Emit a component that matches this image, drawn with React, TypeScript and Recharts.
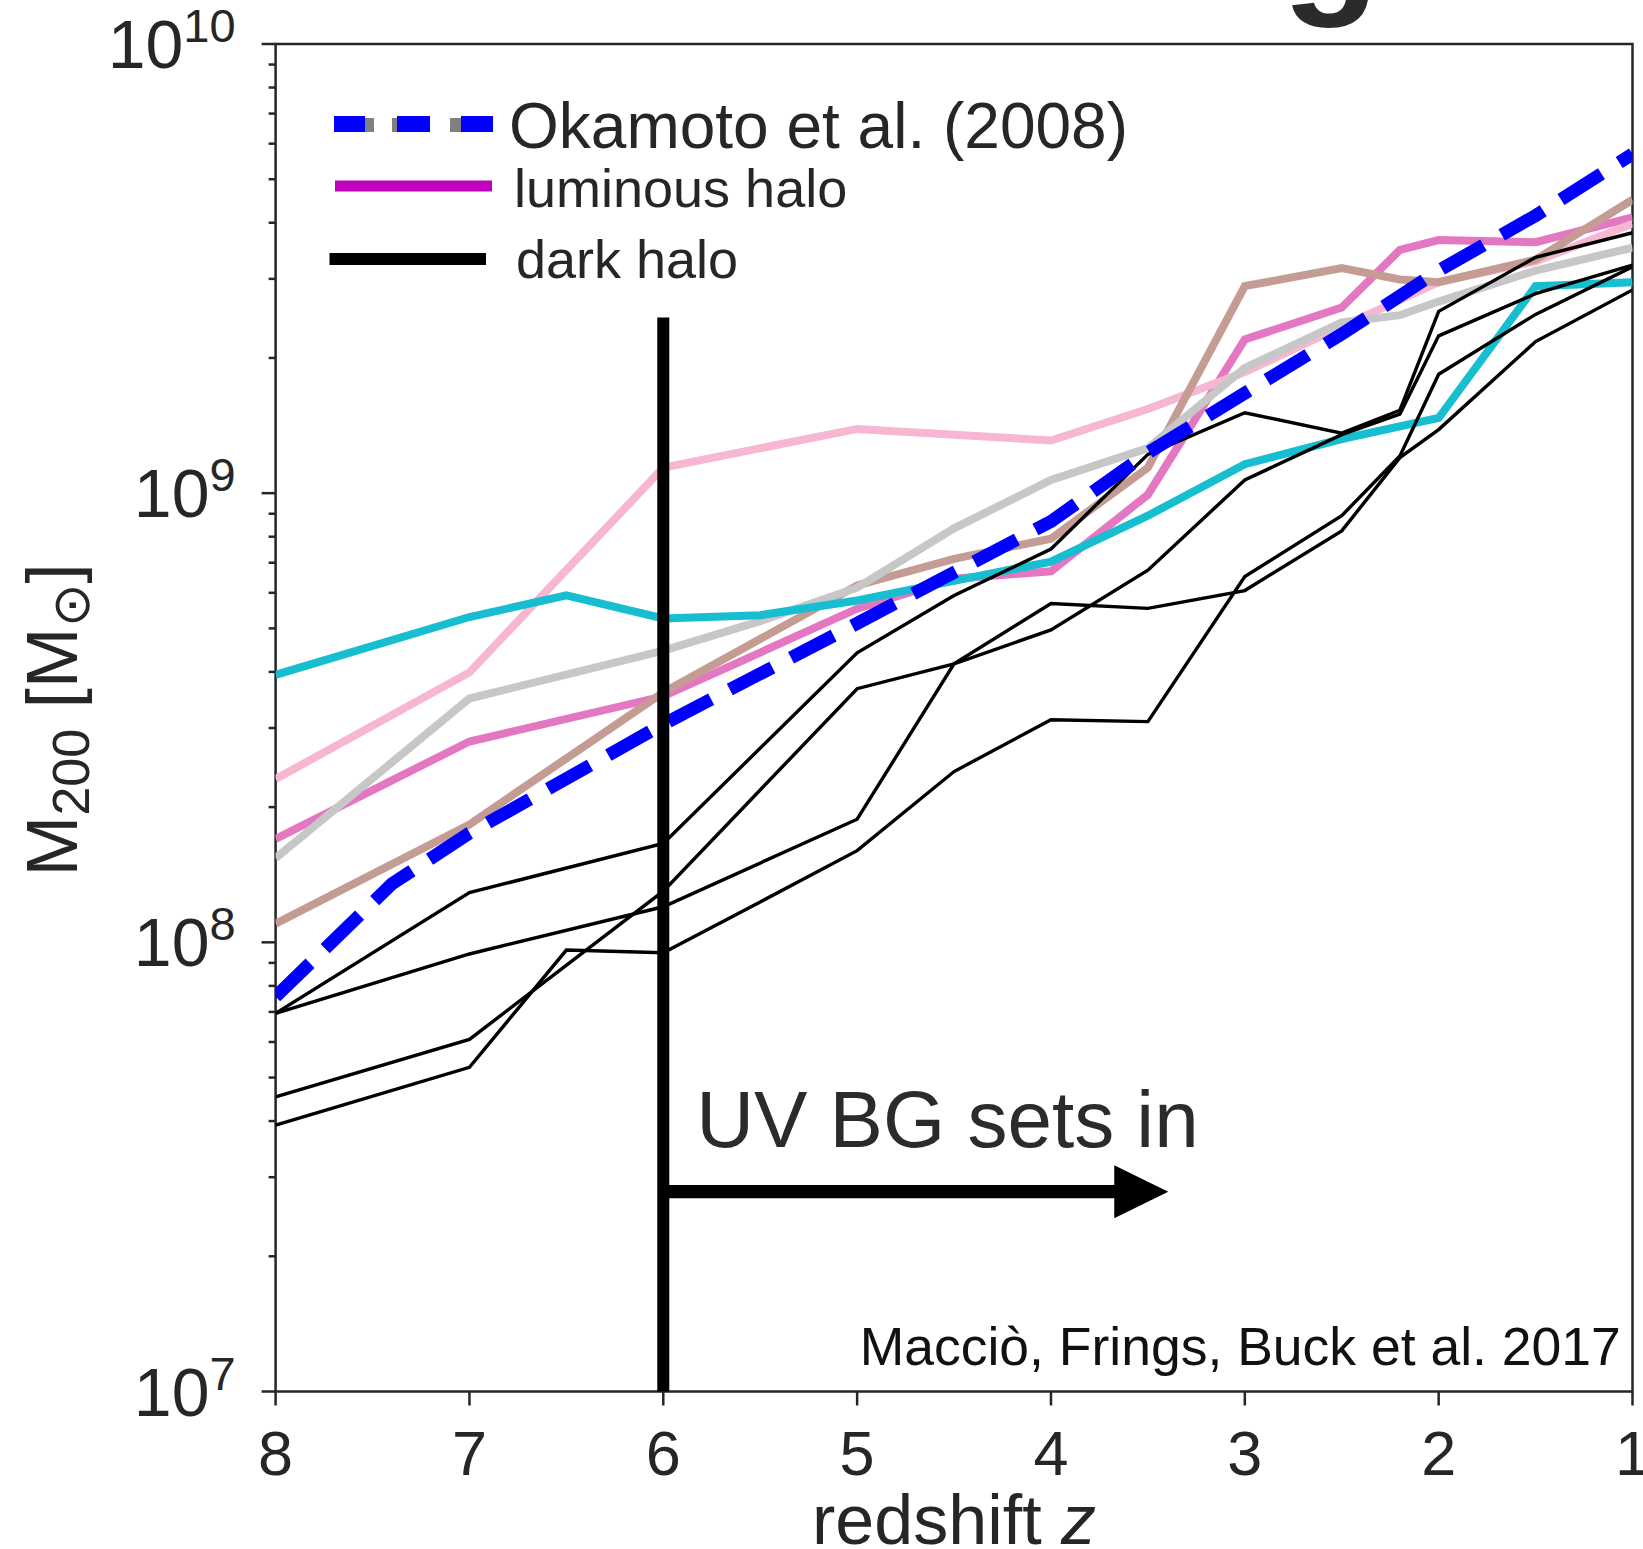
import React from 'react';
import {
  LineChart,
  Line,
  XAxis,
  YAxis,
  ReferenceLine,
  ReferenceDot,
  ReferenceArea,
  Legend,
} from 'recharts';

const FONT = '"Liberation Sans", Arial, Helvetica, sans-serif';
const INK = '#262626';

// ---------- axes ----------
const redshiftTicks = [8, 7, 6, 5, 4, 3, 2, 1];
const massTicks = [
  1e7, 2e7, 3e7, 4e7, 5e7, 6e7, 7e7, 8e7, 9e7,
  1e8, 2e8, 3e8, 4e8, 5e8, 6e8, 7e8, 8e8, 9e8,
  1e9, 2e9, 3e9, 4e9, 5e9, 6e9, 7e9, 8e9, 9e9,
  1e10,
];

// ---------- series (z, M200 in Msun) ----------
const okamotoZ = [8, 7.4, 7, 6, 5, 4, 3.5, 3, 2.5, 2, 1.5, 1];
const okamotoM = [7.57e7, 1.35e8, 1.75e8, 3.06e8, 5.13e8, 8.65e8, 1.23e9, 1.67e9, 2.26e9, 3.13e9, 4.15e9, 5.69e9];

const magentaZ = [8, 7, 6, 5, 4.5, 4, 3.5, 3, 2.5, 2.2, 2, 1.5, 1];
const magentaM = [1.7e8, 2.8e8, 3.53e8, 5.53e8, 6.45e8, 6.7e8, 9.92e8, 2.2e9, 2.59e9, 3.48e9, 3.66e9, 3.62e9, 4.11e9];

const lightPinkZ = [8, 7, 6, 5, 4, 3.5, 3, 2.5, 2, 1.5, 1];
const lightPinkM = [2.31e8, 3.99e8, 1.14e9, 1.39e9, 1.31e9, 1.54e9, 1.86e9, 2.35e9, 2.95e9, 3.28e9, 3.98e9];

const brownZ = [8, 7, 6, 5, 4.5, 4, 3.5, 3, 2.5, 2.2, 2, 1.5, 1];
const brownM = [1.1e8, 1.83e8, 3.6e8, 6.23e8, 7.14e8, 7.92e8, 1.14e9, 2.89e9, 3.17e9, 2.99e9, 2.95e9, 3.31e9, 4.5e9];

const greyZ = [8, 7, 6, 5.5, 5, 4.5, 4, 3.5, 3, 2.5, 2.2, 2, 1.5, 1];
const greyM = [1.54e8, 3.49e8, 4.46e8, 5.19e8, 6.16e8, 8.35e8, 1.07e9, 1.26e9, 1.9e9, 2.4e9, 2.49e9, 2.67e9, 3.13e9, 3.52e9];

const cyanZ = [8, 7, 6.5, 6, 5.5, 5, 4.5, 4, 3.5, 3, 2.5, 2, 1.5, 1];
const cyanM = [3.94e8, 5.3e8, 5.92e8, 5.26e8, 5.35e8, 5.77e8, 6.38e8, 7.04e8, 8.91e8, 1.16e9, 1.32e9, 1.47e9, 2.89e9, 2.95e9];

const darkAZ = [8, 7, 6, 5, 4.5, 4, 3.5, 3, 2.5, 2.2, 2, 1.5, 1];
const darkAM = [6.95e7, 1.29e8, 1.66e8, 4.41e8, 5.92e8, 7.51e8, 1.22e9, 1.51e9, 1.36e9, 1.53e9, 2.54e9, 3.35e9, 3.8e9];

const darkBZ = [8, 7, 6, 5, 4.5, 4, 3.5, 3, 2.5, 2.2, 2, 1.5, 1];
const darkBM = [6.95e7, 9.42e7, 1.2e8, 1.88e8, 4.17e8, 5.68e8, 5.54e8, 6.07e8, 8.24e8, 1.2e9, 1.385e9, 2.175e9, 2.835e9];

const darkCZ = [8, 7, 6, 5, 4.5, 4, 3.5, 3, 2.5, 2.2, 2, 1.5, 1];
const darkCM = [4.53e7, 6.08e7, 1.3e8, 3.67e8, 4.17e8, 4.96e8, 6.74e8, 1.07e9, 1.35e9, 1.5e9, 2.24e9, 2.78e9, 3.22e9];

const darkDZ = [8, 7, 6.5, 6, 5.5, 5, 4.5, 4, 3.5, 3, 2.5, 2.2, 2, 1.5, 1];
const darkDM = [3.92e7, 5.27e7, 9.61e7, 9.48e7, 1.23e8, 1.6e8, 2.4e8, 3.13e8, 3.1e8, 6.52e8, 8.91e8, 1.21e9, 1.84e9, 2.5e9, 3.19e9];

// ---------- annotations (data coordinates) ----------
const uvOnsetZ = 6;
const uvLineTopM = 2.46e9;
const uvArrowM = 2.785e7;
const uvArrowTipZ = 3.395;
const uvTextAnchor = { z: 5.83, m: 3.5e7 };
const creditAnchor = { z: 1.06, m: 1.146e7 };

const pts = (zs: number[], ms: number[]) => zs.map((z, i) => ({ z, m: ms[i] }));

const luminous = [
  { key: 'magenta', color: '#e377c2', data: pts(magentaZ, magentaM) },
  { key: 'lightpink', color: '#f7b6d2', data: pts(lightPinkZ, lightPinkM) },
  { key: 'brown', color: '#c49c94', data: pts(brownZ, brownM) },
  { key: 'grey', color: '#c7c7c7', data: pts(greyZ, greyM) },
  { key: 'cyan', color: '#17becf', data: pts(cyanZ, cyanM) },
];
const dark = [
  { key: 'darkA', data: pts(darkAZ, darkAM) },
  { key: 'darkB', data: pts(darkBZ, darkBM) },
  { key: 'darkC', data: pts(darkCZ, darkCM) },
  { key: 'darkD', data: pts(darkDZ, darkDM) },
];
const okamoto = pts(okamotoZ, okamotoM);

// ---------- renderers ----------
const YTick = (props: any) => {
  const { x, y, payload } = props;
  const v = payload.value as number;
  const e = Math.log10(v);
  const major = Math.abs(e - Math.round(e)) < 1e-6;
  const len = major ? 14 : 7;
  return (
    <g>
      <line x1={x} x2={x - len} y1={y} y2={y} stroke={INK} strokeWidth={2.5} />
      {major && (
        <text x={x - 40} y={y + 24} textAnchor="end" fontFamily={FONT} fill={INK} fontSize={68}>
          10
          <tspan dy={-26} fontSize={47}>
            {Math.round(e)}
          </tspan>
        </text>
      )}
    </g>
  );
};

const XTick = (props: any) => {
  const { x, y, payload } = props;
  return (
    <g>
      <line x1={x} x2={x} y1={y} y2={y + 14} stroke={INK} strokeWidth={2.5} />
      <text x={x} y={y + 83} textAnchor="middle" fontFamily={FONT} fill={INK} fontSize={63}>
        {payload.value}
      </text>
    </g>
  );
};

const YLabel = (props: any) => {
  const vb = props.viewBox || { x: 0, y: 44, width: 276, height: 1347 };
  const cx = vb.x + 77;
  const cy = vb.y + vb.height / 2 + 2;
  return (
    <text
      x={cx}
      y={cy}
      transform={`rotate(-90, ${cx}, ${cy})`}
      textAnchor="middle"
      fontFamily={FONT}
      fontSize={73}
      fill={INK}
    >
      M
      <tspan fontSize={52} dy={12}>200</tspan>
      <tspan dy={-12}> [M</tspan>
      <tspan fontSize={52} dy={12}>⊙</tspan>
      <tspan dy={-12}>]</tspan>
    </text>
  );
};

const XLabel = (props: any) => {
  const vb = props.viewBox || { x: 276, y: 1391, width: 1357, height: 158 };
  const cx = vb.x + vb.width / 2;
  return (
    <text x={cx} y={vb.y + 152} textAnchor="middle" fontFamily={FONT} fontSize={70} fill={INK}>
      redshift <tspan fontStyle="italic">z</tspan>
    </text>
  );
};

const ArrowShape = (props: any) => {
  const { x1, y1, x2 } = props;
  const headLen = 54;
  const headHalf = 26.5;
  const base = x2 - headLen;
  return (
    <g>
      <line x1={x1} x2={base + 1} y1={y1} y2={y1} stroke="#000" strokeWidth={13.3} />
      <polygon
        points={`${base},${y1 - headHalf} ${x2},${y1} ${base},${y1 + headHalf}`}
        fill="#000"
      />
    </g>
  );
};

const UVText = (props: any) => (
  <text x={props.cx} y={props.cy} fontFamily={FONT} fontSize={80} fill="#2b2b2b">
    UV BG sets in
  </text>
);

const CreditText = (props: any) => (
  <text x={props.cx} y={props.cy} textAnchor="end" fontFamily={FONT} fontSize={53.5} fill="#111">
    Macciò, Frings, Buck et al. 2017
  </text>
);

const LegendBox = () => (
  <svg width={1643} height={320} style={{ display: 'block' }}>
    {/* Okamoto: grey dashes underneath blue dashes */}
    <rect x={365} y={118} width={9} height={14} fill="#808080" />
    <rect x={392} y={118} width={5} height={14} fill="#808080" />
    <rect x={450} y={118} width={11} height={14} fill="#808080" />
    <rect x={334} y={116} width={31} height={16} fill="#0000ff" />
    <rect x={397} y={116} width={33} height={16} fill="#0000ff" />
    <rect x={461} y={116} width={32} height={16} fill="#0000ff" />
    <text x={509} y={148} fontFamily={FONT} fontSize={64} fill={INK}>
      Okamoto et al. (2008)
    </text>
    <rect x={335} y={180.5} width={157} height={11} fill="#bf00bf" />
    <text x={514} y={207} fontFamily={FONT} fontSize={54} fill={INK}>
      luminous halo
    </text>
    <rect x={329.5} y={253} width={156.5} height={12} fill="#000" />
    <text x={516} y={278} fontFamily={FONT} fontSize={54} fill={INK}>
      dark halo
    </text>
  </svg>
);

export default function App() {
  return (
    <div style={{ position: 'absolute', left: 0, top: 0, width: 1643, height: 1549, background: '#fff', overflow: 'hidden' }}>
      <LineChart width={1643} height={1549} margin={{ top: 44, right: 10.5, bottom: 0, left: 0 }}>
        <XAxis
          dataKey="z"
          type="number"
          domain={[1, 8]}
          reversed
          allowDataOverflow
          ticks={redshiftTicks}
          interval={0}
          tick={XTick}
          tickLine={false}
          axisLine={false}
          tickSize={0}
          tickMargin={0}
          height={157.5}
          label={XLabel}
        />
        <YAxis
          type="number"
          scale="log"
          domain={[1e7, 1e10]}
          allowDataOverflow
          ticks={massTicks}
          interval={0}
          tick={YTick}
          tickLine={false}
          axisLine={false}
          tickSize={0}
          tickMargin={0}
          width={275.6}
          label={YLabel}
        />
        <ReferenceArea
          x1={1}
          x2={8}
          y1={1e7}
          y2={1e10}
          fill="none"
          fillOpacity={0}
          stroke={INK}
          strokeWidth={2.5}
        />
        {luminous.map((s) => (
          <Line
            key={s.key}
            data={s.data}
            dataKey="m"
            type="linear"
            stroke={s.color}
            strokeWidth={8}
            dot={false}
            activeDot={false}
            isAnimationActive={false}
          />
        ))}
        {dark.map((s) => (
          <Line
            key={s.key}
            data={s.data}
            dataKey="m"
            type="linear"
            stroke="#000"
            strokeWidth={3.4}
            dot={false}
            activeDot={false}
            isAnimationActive={false}
          />
        ))}
        <Line
          data={okamoto}
          dataKey="m"
          type="linear"
          stroke="#0000ff"
          strokeWidth={13}
          strokeDasharray="48 21"
          dot={false}
          activeDot={false}
          isAnimationActive={false}
        />
        <ReferenceLine
          segment={[
            { x: uvOnsetZ, y: 1e7 },
            { x: uvOnsetZ, y: uvLineTopM },
          ]}
          stroke="#000"
          strokeWidth={12}
        />
        <ReferenceLine
          segment={[
            { x: uvOnsetZ, y: uvArrowM },
            { x: uvArrowTipZ, y: uvArrowM },
          ]}
          shape={ArrowShape}
        />
        <ReferenceDot x={uvTextAnchor.z} y={uvTextAnchor.m} r={0} shape={UVText} />
        <ReferenceDot x={creditAnchor.z} y={creditAnchor.m} r={0} shape={CreditText} />
        <Legend
          content={LegendBox}
          layout="vertical"
          align="center"
          verticalAlign="middle"
          wrapperStyle={{ position: 'absolute', left: 0, top: 0, width: 1643, height: 320, margin: 0, padding: 0, pointerEvents: 'none' }}
        />
      </LineChart>
      <svg width={1643} height={60} style={{ position: 'absolute', left: 0, top: 0, pointerEvents: 'none' }}>
        <text x={1282} y={-6} fontFamily={FONT} fontWeight="bold" fontSize={160} fill="#2b2b2b">
          g
        </text>
      </svg>
    </div>
  );
}
